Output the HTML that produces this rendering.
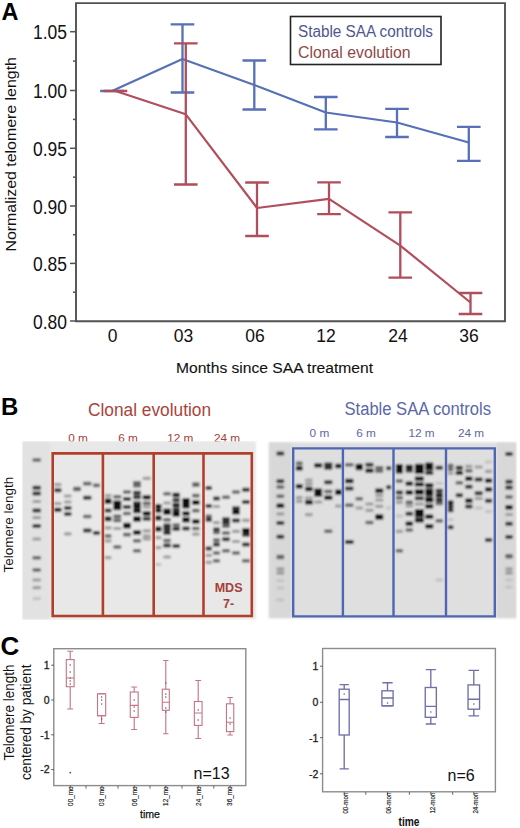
<!DOCTYPE html>
<html><head><meta charset="utf-8"><style>
html,body{margin:0;padding:0;background:#fff;}
svg{display:block;font-family:"Liberation Sans", sans-serif;}
</style></head><body>
<svg width="520" height="828" viewBox="0 0 520 828" font-family='"Liberation Sans", sans-serif'>
<defs><filter id="blur" x="0" y="0" width="1" height="1"><feGaussianBlur stdDeviation="0.95"/></filter></defs>
<rect width="520" height="828" fill="#fff"/>
<text x="1.5" y="20.2" font-size="23.5" font-weight="bold" fill="#000">A</text>
<path d="M76 3.1 V321.2 H505 V3.1 Z" fill="none" stroke="#525252" stroke-width="1.9"/>
<line x1="70" y1="31.7" x2="76" y2="31.7" stroke="#525252" stroke-width="1.5"/>
<text x="67" y="39.2" font-size="20" textLength="34" lengthAdjust="spacingAndGlyphs" text-anchor="end" fill="#111">1.05</text>
<line x1="70" y1="90.5" x2="76" y2="90.5" stroke="#525252" stroke-width="1.5"/>
<text x="67" y="98.0" font-size="20" textLength="34" lengthAdjust="spacingAndGlyphs" text-anchor="end" fill="#111">1.00</text>
<line x1="70" y1="148.3" x2="76" y2="148.3" stroke="#525252" stroke-width="1.5"/>
<text x="67" y="155.8" font-size="20" textLength="34" lengthAdjust="spacingAndGlyphs" text-anchor="end" fill="#111">0.95</text>
<line x1="70" y1="206.0" x2="76" y2="206.0" stroke="#525252" stroke-width="1.5"/>
<text x="67" y="213.5" font-size="20" textLength="34" lengthAdjust="spacingAndGlyphs" text-anchor="end" fill="#111">0.90</text>
<line x1="70" y1="263.4" x2="76" y2="263.4" stroke="#525252" stroke-width="1.5"/>
<text x="67" y="270.9" font-size="20" textLength="34" lengthAdjust="spacingAndGlyphs" text-anchor="end" fill="#111">0.85</text>
<line x1="70" y1="321" x2="76" y2="321" stroke="#525252" stroke-width="1.5"/>
<text x="67" y="328.5" font-size="20" textLength="34" lengthAdjust="spacingAndGlyphs" text-anchor="end" fill="#111">0.80</text>
<line x1="73" y1="61.1" x2="76" y2="61.1" stroke="#525252" stroke-width="1.5"/>
<line x1="73" y1="119.4" x2="76" y2="119.4" stroke="#525252" stroke-width="1.5"/>
<line x1="73" y1="177.15" x2="76" y2="177.15" stroke="#525252" stroke-width="1.5"/>
<line x1="73" y1="234.7" x2="76" y2="234.7" stroke="#525252" stroke-width="1.5"/>
<line x1="73" y1="292.2" x2="76" y2="292.2" stroke="#525252" stroke-width="1.5"/>
<text x="112.6" y="341.5" font-size="19" textLength="9.73" lengthAdjust="spacingAndGlyphs" text-anchor="middle" fill="#111">0</text>
<text x="183.5" y="341.5" font-size="19" textLength="19.46" lengthAdjust="spacingAndGlyphs" text-anchor="middle" fill="#111">03</text>
<text x="255" y="341.5" font-size="19" textLength="19.46" lengthAdjust="spacingAndGlyphs" text-anchor="middle" fill="#111">06</text>
<text x="326" y="341.5" font-size="19" textLength="19.46" lengthAdjust="spacingAndGlyphs" text-anchor="middle" fill="#111">12</text>
<text x="398" y="341.5" font-size="19" textLength="19.46" lengthAdjust="spacingAndGlyphs" text-anchor="middle" fill="#111">24</text>
<text x="469" y="341.5" font-size="19" textLength="19.46" lengthAdjust="spacingAndGlyphs" text-anchor="middle" fill="#111">36</text>
<text x="176" y="373" font-size="14" textLength="197" lengthAdjust="spacingAndGlyphs" fill="#111" stroke="#111" stroke-width="0.1">Months since SAA treatment</text>
<text transform="translate(16.2,251.6) rotate(-90)" x="0" y="0" font-size="14.8" textLength="194.5" lengthAdjust="spacingAndGlyphs" fill="#111">Normalized telomere length</text>
<rect x="290.5" y="16.5" width="150.5" height="48" fill="#fff" stroke="#222" stroke-width="1.6"/>
<text x="298" y="37" font-size="16" textLength="135" lengthAdjust="spacingAndGlyphs" fill="#4d5890">Stable SAA controls</text>
<text x="298" y="57.5" font-size="16" textLength="112.5" lengthAdjust="spacingAndGlyphs" fill="#8e4848">Clonal evolution</text>
<polyline points="112,91 182.5,59 254.3,85 325.8,112.5 397,122.5 468.8,142.5" fill="none" stroke="#5770b6" stroke-width="2.2" stroke-linejoin="round"/>
<path d="M112 91 V91 M100.2 91 H123.8 M100.2 91 H123.8" stroke="#5770b6" stroke-width="2.3" fill="none"/>
<path d="M182.5 24.3 V92.5 M170.7 24.3 H194.3 M170.7 92.5 H194.3" stroke="#5770b6" stroke-width="2.3" fill="none"/>
<path d="M254.3 60.5 V109.5 M242.5 60.5 H266.1 M242.5 109.5 H266.1" stroke="#5770b6" stroke-width="2.3" fill="none"/>
<path d="M325.8 97 V129.3 M314.0 97 H337.6 M314.0 129.3 H337.6" stroke="#5770b6" stroke-width="2.3" fill="none"/>
<path d="M397 108.8 V137 M385.2 108.8 H408.8 M385.2 137 H408.8" stroke="#5770b6" stroke-width="2.3" fill="none"/>
<path d="M468.8 126.8 V160.8 M457.0 126.8 H480.6 M457.0 160.8 H480.6" stroke="#5770b6" stroke-width="2.3" fill="none"/>
<polyline points="115.5,91 185.8,114.3 257,208 329,198.8 400.3,245.6 470.5,302.5" fill="none" stroke="#b04e5c" stroke-width="2.2" stroke-linejoin="round"/>
<path d="M115.5 91 V91 M103.7 91 H127.3 M103.7 91 H127.3" stroke="#b04e5c" stroke-width="2.3" fill="none"/>
<path d="M185.8 43.3 V184.5 M174.0 43.3 H197.60000000000002 M174.0 184.5 H197.60000000000002" stroke="#b04e5c" stroke-width="2.3" fill="none"/>
<path d="M257 182.5 V236 M245.2 182.5 H268.8 M245.2 236 H268.8" stroke="#b04e5c" stroke-width="2.3" fill="none"/>
<path d="M329 182.4 V214.1 M317.2 182.4 H340.8 M317.2 214.1 H340.8" stroke="#b04e5c" stroke-width="2.3" fill="none"/>
<path d="M400.3 212.4 V277.6 M388.5 212.4 H412.1 M388.5 277.6 H412.1" stroke="#b04e5c" stroke-width="2.3" fill="none"/>
<path d="M470.5 293 V314 M458.7 293 H482.3 M458.7 314 H482.3" stroke="#b04e5c" stroke-width="2.3" fill="none"/>
<text x="1" y="414.8" font-size="24" font-weight="bold" fill="#000">B</text>
<text x="88" y="415.6" font-size="17.5" textLength="123" lengthAdjust="spacingAndGlyphs" fill="#a8443c">Clonal evolution</text>
<text x="344.5" y="414.7" font-size="18" textLength="146.5" lengthAdjust="spacingAndGlyphs" fill="#5a68a8">Stable SAA controls</text>
<text transform="translate(12.8,572.4) rotate(-90)" font-size="13.5" textLength="95.5" lengthAdjust="spacingAndGlyphs" fill="#111">Telomere length</text>
<text x="78" y="441.7" font-size="11.8" text-anchor="middle" fill="#a5403a">0 m</text>
<text x="128" y="441.7" font-size="11.8" text-anchor="middle" fill="#a5403a">6 m</text>
<text x="180.3" y="441.7" font-size="11.8" text-anchor="middle" fill="#a5403a">12 m</text>
<text x="227" y="441.7" font-size="11.8" text-anchor="middle" fill="#a5403a">24 m</text>
<text x="319.4" y="436.5" font-size="11.8" text-anchor="middle" fill="#5e689e">0 m</text>
<text x="366" y="436.5" font-size="11.8" text-anchor="middle" fill="#5e689e">6 m</text>
<text x="421.5" y="436.5" font-size="11.8" text-anchor="middle" fill="#5e689e">12 m</text>
<text x="471" y="436.5" font-size="11.8" text-anchor="middle" fill="#5e689e">24 m</text>
<g filter="url(#blur)">
<rect x="22" y="441" width="234" height="178.5" fill="#e8e8e8"/>
<rect x="22" y="441" width="28" height="178.5" fill="#e2e2e2"/>
<rect x="268.8" y="442.2" width="247.5" height="176" fill="#dfdfdf"/><rect x="268.8" y="442.2" width="22" height="176" fill="#d8d8d8"/><rect x="497" y="442.2" width="19.3" height="176" fill="#d8d8d8"/>
<rect x="32.5" y="458.2" width="8.5" height="3.6" rx="1.2" fill="#646464"/>
<rect x="32.5" y="485.7" width="8.5" height="4.0" rx="1.2" fill="#2e2e2e"/>
<rect x="32.5" y="491.4" width="8.5" height="4.0" rx="1.2" fill="#2e2e2e"/>
<rect x="32.5" y="499.9" width="8.5" height="3.2" rx="1.2" fill="#9c9c9c"/>
<rect x="32.5" y="508.4" width="8.5" height="4.1" rx="1.2" fill="#2e2e2e"/>
<rect x="32.5" y="516.1" width="8.5" height="3.2" rx="1.2" fill="#9c9c9c"/>
<rect x="32.5" y="524.0" width="8.5" height="4.0" rx="1.2" fill="#2e2e2e"/>
<rect x="32.5" y="537.4" width="8.5" height="3.2" rx="1.2" fill="#9c9c9c"/>
<rect x="32.5" y="555.9" width="8.5" height="3.6" rx="1.2" fill="#646464"/>
<rect x="32.5" y="568.2" width="8.5" height="3.6" rx="1.2" fill="#646464"/>
<rect x="32.5" y="578.4" width="8.5" height="3.2" rx="1.2" fill="#9c9c9c"/>
<rect x="32.5" y="586.1" width="8.5" height="3.2" rx="1.2" fill="#9c9c9c"/>
<rect x="32.5" y="597.0" width="8.5" height="3.0" rx="1.2" fill="#c2c2c2"/>
<rect x="54" y="483.0" width="7.5" height="3.2" rx="1.2" fill="#9c9c9c"/>
<rect x="54" y="488.3" width="7.5" height="4.0" rx="1.2" fill="#2e2e2e"/>
<rect x="54" y="501.9" width="7.5" height="3.2" rx="1.2" fill="#9c9c9c"/>
<rect x="54" y="507.8" width="7.5" height="4.1" rx="1.2" fill="#0c0c0c"/>
<rect x="64" y="494.4" width="7.5" height="3.2" rx="1.2" fill="#9c9c9c"/>
<rect x="64" y="500.4" width="7.5" height="3.2" rx="1.2" fill="#9c9c9c"/>
<rect x="64" y="506.0" width="7.5" height="4.0" rx="1.2" fill="#2e2e2e"/>
<rect x="64" y="512.0" width="7.5" height="4.0" rx="1.2" fill="#2e2e2e"/>
<rect x="64" y="532.2" width="7.5" height="3.2" rx="1.2" fill="#9c9c9c"/>
<rect x="73" y="486.7" width="8" height="4.6" rx="1.2" fill="#646464"/>
<rect x="83" y="481.8" width="8.5" height="3.6" rx="1.2" fill="#646464"/>
<rect x="83" y="495.7" width="8.5" height="4.0" rx="1.2" fill="#2e2e2e"/>
<rect x="83" y="514.7" width="8.5" height="3.6" rx="1.2" fill="#646464"/>
<rect x="83" y="528.5" width="8.5" height="4.0" rx="1.2" fill="#2e2e2e"/>
<rect x="93" y="483.6" width="7" height="3.6" rx="1.2" fill="#646464"/>
<rect x="93" y="531.0" width="7" height="4.0" rx="1.2" fill="#2e2e2e"/>
<rect x="104.6" y="494.0" width="6.900000000000006" height="3.2" rx="1.2" fill="#9c9c9c"/>
<rect x="104.6" y="498.5" width="6.900000000000006" height="5.6" rx="1.2" fill="#0c0c0c"/>
<rect x="104.6" y="508.6" width="6.900000000000006" height="4.0" rx="1.2" fill="#2e2e2e"/>
<rect x="104.6" y="516.6" width="6.900000000000006" height="4.6" rx="1.2" fill="#0c0c0c"/>
<rect x="104.6" y="526.3" width="6.900000000000006" height="3.2" rx="1.2" fill="#9c9c9c"/>
<rect x="104.6" y="534.2" width="6.900000000000006" height="3.6" rx="1.2" fill="#646464"/>
<rect x="104.6" y="539.2" width="6.900000000000006" height="3.2" rx="1.2" fill="#9c9c9c"/>
<rect x="104.6" y="556.1" width="6.900000000000006" height="3.2" rx="1.2" fill="#9c9c9c"/>
<rect x="113.3" y="494.9" width="8.0" height="3.6" rx="1.2" fill="#646464"/>
<rect x="113.3" y="500.6" width="8.0" height="9.6" rx="1.2" fill="#0c0c0c"/>
<rect x="113.3" y="514.5" width="8.0" height="3.6" rx="1.2" fill="#646464"/>
<rect x="113.3" y="518.6" width="8.0" height="3.6" rx="1.2" fill="#646464"/>
<rect x="113.3" y="526.9" width="8.0" height="3.2" rx="1.2" fill="#9c9c9c"/>
<rect x="113.3" y="545.2" width="8.0" height="3.6" rx="1.2" fill="#646464"/>
<rect x="123" y="490.2" width="8" height="3.6" rx="1.2" fill="#646464"/>
<rect x="123" y="497.0" width="8" height="4.0" rx="1.2" fill="#2e2e2e"/>
<rect x="123" y="505.0" width="8" height="4.0" rx="1.2" fill="#2e2e2e"/>
<rect x="123" y="511.7" width="8" height="3.6" rx="1.2" fill="#646464"/>
<rect x="123" y="522.8" width="8" height="5.6" rx="1.2" fill="#0c0c0c"/>
<rect x="123" y="532.8" width="8" height="3.6" rx="1.2" fill="#646464"/>
<rect x="133" y="481.1" width="8" height="3.6" rx="1.2" fill="#646464"/>
<rect x="133" y="484.0" width="8" height="3.6" rx="1.2" fill="#646464"/>
<rect x="133" y="490.7" width="8" height="4.0" rx="1.2" fill="#2e2e2e"/>
<rect x="133" y="495.3" width="8" height="4.0" rx="1.2" fill="#2e2e2e"/>
<rect x="133" y="501.3" width="8" height="4.0" rx="1.2" fill="#2e2e2e"/>
<rect x="133" y="504.3" width="8" height="4.4" rx="1.2" fill="#0c0c0c"/>
<rect x="133" y="508.8" width="8" height="4.4" rx="1.2" fill="#0c0c0c"/>
<rect x="133" y="516.2" width="8" height="5.6" rx="1.2" fill="#0c0c0c"/>
<rect x="133" y="530.2" width="8" height="4.6" rx="1.2" fill="#0c0c0c"/>
<rect x="133" y="539.0" width="8" height="3.6" rx="1.2" fill="#646464"/>
<rect x="133" y="549.0" width="8" height="3.6" rx="1.2" fill="#646464"/>
<rect x="142.7" y="476.7" width="8.100000000000023" height="3.2" rx="1.2" fill="#9c9c9c"/>
<rect x="142.7" y="495.1" width="8.100000000000023" height="4.4" rx="1.2" fill="#0c0c0c"/>
<rect x="142.7" y="501.5" width="8.100000000000023" height="3.6" rx="1.2" fill="#646464"/>
<rect x="142.7" y="505.4" width="8.100000000000023" height="3.2" rx="1.2" fill="#9c9c9c"/>
<rect x="142.7" y="511.3" width="8.100000000000023" height="4.4" rx="1.2" fill="#0c0c0c"/>
<rect x="142.7" y="516.7" width="8.100000000000023" height="4.0" rx="1.2" fill="#2e2e2e"/>
<rect x="142.7" y="529.2" width="8.100000000000023" height="3.2" rx="1.2" fill="#9c9c9c"/>
<rect x="142.7" y="534.4" width="8.100000000000023" height="3.2" rx="1.2" fill="#9c9c9c"/>
<rect x="142.7" y="537.4" width="8.100000000000023" height="3.2" rx="1.2" fill="#9c9c9c"/>
<rect x="155.2" y="504.1" width="6.300000000000011" height="4.4" rx="1.2" fill="#0c0c0c"/>
<rect x="155.2" y="508.4" width="6.300000000000011" height="4.4" rx="1.2" fill="#0c0c0c"/>
<rect x="155.2" y="515.5" width="6.300000000000011" height="5.1" rx="1.2" fill="#0c0c0c"/>
<rect x="155.2" y="526.5" width="6.300000000000011" height="5.1" rx="1.2" fill="#0c0c0c"/>
<rect x="155.2" y="536.1" width="6.300000000000011" height="3.2" rx="1.2" fill="#9c9c9c"/>
<rect x="155.2" y="546.1" width="6.300000000000011" height="3.2" rx="1.2" fill="#9c9c9c"/>
<rect x="155.2" y="563.1" width="6.300000000000011" height="3.0" rx="1.2" fill="#c2c2c2"/>
<rect x="163.3" y="492.0" width="7.5" height="3.6" rx="1.2" fill="#646464"/>
<rect x="163.3" y="501.4" width="7.5" height="3.2" rx="1.2" fill="#9c9c9c"/>
<rect x="163.3" y="508.4" width="7.5" height="6.6" rx="1.2" fill="#0c0c0c"/>
<rect x="163.3" y="518.0" width="7.5" height="3.6" rx="1.2" fill="#646464"/>
<rect x="163.3" y="523.6" width="7.5" height="4.0" rx="1.2" fill="#2e2e2e"/>
<rect x="163.3" y="527.0" width="7.5" height="4.0" rx="1.2" fill="#2e2e2e"/>
<rect x="163.3" y="531.0" width="7.5" height="4.0" rx="1.2" fill="#2e2e2e"/>
<rect x="163.3" y="538.7" width="7.5" height="3.6" rx="1.2" fill="#646464"/>
<rect x="163.3" y="543.4" width="7.5" height="4.0" rx="1.2" fill="#2e2e2e"/>
<rect x="163.3" y="555.4" width="7.5" height="3.2" rx="1.2" fill="#9c9c9c"/>
<rect x="172.5" y="492.8" width="7.5" height="4.4" rx="1.2" fill="#0c0c0c"/>
<rect x="172.5" y="498.2" width="7.5" height="4.0" rx="1.2" fill="#2e2e2e"/>
<rect x="172.5" y="503.0" width="7.5" height="4.4" rx="1.2" fill="#0c0c0c"/>
<rect x="172.5" y="508.0" width="7.5" height="4.0" rx="1.2" fill="#2e2e2e"/>
<rect x="172.5" y="511.2" width="7.5" height="5.6" rx="1.2" fill="#0c0c0c"/>
<rect x="172.5" y="523.2" width="7.5" height="3.6" rx="1.2" fill="#646464"/>
<rect x="172.5" y="527.0" width="7.5" height="4.0" rx="1.2" fill="#2e2e2e"/>
<rect x="172.5" y="544.0" width="7.5" height="4.0" rx="1.2" fill="#2e2e2e"/>
<rect x="182.3" y="498.0" width="7.5" height="4.4" rx="1.2" fill="#0c0c0c"/>
<rect x="182.3" y="499.9" width="7.5" height="8.6" rx="1.2" fill="#0c0c0c"/>
<rect x="182.3" y="511.3" width="7.5" height="4.4" rx="1.2" fill="#0c0c0c"/>
<rect x="182.3" y="517.0" width="7.5" height="5.6" rx="1.2" fill="#0c0c0c"/>
<rect x="182.3" y="526.5" width="7.5" height="4.0" rx="1.2" fill="#2e2e2e"/>
<rect x="192.1" y="482.3" width="7.5" height="4.6" rx="1.2" fill="#646464"/>
<rect x="192.1" y="493.8" width="7.5" height="3.6" rx="1.2" fill="#646464"/>
<rect x="192.1" y="499.9" width="7.5" height="5.1" rx="1.2" fill="#0c0c0c"/>
<rect x="192.1" y="508.8" width="7.5" height="3.6" rx="1.2" fill="#646464"/>
<rect x="192.1" y="519.3" width="7.5" height="4.4" rx="1.2" fill="#0c0c0c"/>
<rect x="192.1" y="526.7" width="7.5" height="3.6" rx="1.2" fill="#646464"/>
<rect x="192.1" y="532.6" width="7.5" height="3.2" rx="1.2" fill="#9c9c9c"/>
<rect x="205.5" y="486.0" width="6.5" height="4.0" rx="1.2" fill="#2e2e2e"/>
<rect x="205.5" y="504.0" width="6.5" height="4.0" rx="1.2" fill="#2e2e2e"/>
<rect x="205.5" y="514.5" width="6.5" height="3.6" rx="1.2" fill="#646464"/>
<rect x="205.5" y="517.8" width="6.5" height="4.0" rx="1.2" fill="#2e2e2e"/>
<rect x="205.5" y="546.5" width="6.5" height="4.0" rx="1.2" fill="#2e2e2e"/>
<rect x="205.5" y="553.8" width="6.5" height="3.2" rx="1.2" fill="#9c9c9c"/>
<rect x="205.5" y="560.7" width="6.5" height="3.2" rx="1.2" fill="#9c9c9c"/>
<rect x="213" y="496.5" width="7" height="4.0" rx="1.2" fill="#2e2e2e"/>
<rect x="213" y="504.9" width="7" height="3.2" rx="1.2" fill="#9c9c9c"/>
<rect x="213" y="521.1" width="7" height="3.2" rx="1.2" fill="#9c9c9c"/>
<rect x="213" y="527.6" width="7" height="4.0" rx="1.2" fill="#2e2e2e"/>
<rect x="213" y="530.7" width="7" height="3.6" rx="1.2" fill="#646464"/>
<rect x="213" y="538.2" width="7" height="3.6" rx="1.2" fill="#646464"/>
<rect x="213" y="542.6" width="7" height="4.0" rx="1.2" fill="#2e2e2e"/>
<rect x="213" y="551.2" width="7" height="3.6" rx="1.2" fill="#646464"/>
<rect x="213" y="559.0" width="7" height="3.6" rx="1.2" fill="#646464"/>
<rect x="222" y="495.5" width="8" height="3.6" rx="1.2" fill="#646464"/>
<rect x="222" y="517.2" width="8" height="4.0" rx="1.2" fill="#2e2e2e"/>
<rect x="222" y="520.7" width="8" height="4.0" rx="1.2" fill="#2e2e2e"/>
<rect x="222" y="524.4" width="8" height="3.6" rx="1.2" fill="#646464"/>
<rect x="222" y="531.2" width="8" height="3.6" rx="1.2" fill="#646464"/>
<rect x="222" y="537.2" width="8" height="4.0" rx="1.2" fill="#2e2e2e"/>
<rect x="222" y="549.0" width="8" height="3.6" rx="1.2" fill="#646464"/>
<rect x="232" y="490.2" width="8" height="3.6" rx="1.2" fill="#646464"/>
<rect x="232" y="506.3" width="8" height="4.0" rx="1.2" fill="#2e2e2e"/>
<rect x="232" y="510.1" width="8" height="4.4" rx="1.2" fill="#0c0c0c"/>
<rect x="232" y="518.4" width="8" height="4.0" rx="1.2" fill="#2e2e2e"/>
<rect x="232" y="529.7" width="8" height="3.2" rx="1.2" fill="#9c9c9c"/>
<rect x="232" y="539.9" width="8" height="3.2" rx="1.2" fill="#9c9c9c"/>
<rect x="232" y="551.2" width="8" height="3.6" rx="1.2" fill="#646464"/>
<rect x="242" y="487.8" width="8" height="4.0" rx="1.2" fill="#2e2e2e"/>
<rect x="242" y="500.0" width="8" height="4.0" rx="1.2" fill="#2e2e2e"/>
<rect x="242" y="518.8" width="8" height="3.2" rx="1.2" fill="#9c9c9c"/>
<rect x="242" y="528.0" width="8" height="5.6" rx="1.2" fill="#0c0c0c"/>
<rect x="242" y="532.8" width="8" height="4.0" rx="1.2" fill="#2e2e2e"/>
<rect x="242" y="542.6" width="8" height="4.0" rx="1.2" fill="#2e2e2e"/>
<rect x="242" y="559.0" width="8" height="3.6" rx="1.2" fill="#646464"/>
<rect x="276.5" y="451.5" width="7.699999999999989" height="4.0" rx="1.2" fill="#2e2e2e"/>
<rect x="276.5" y="479.2" width="7.699999999999989" height="4.0" rx="1.2" fill="#2e2e2e"/>
<rect x="276.5" y="485.2" width="7.699999999999989" height="3.6" rx="1.2" fill="#646464"/>
<rect x="276.5" y="494.4" width="7.699999999999989" height="3.6" rx="1.2" fill="#646464"/>
<rect x="276.5" y="503.5" width="7.699999999999989" height="4.6" rx="1.2" fill="#0c0c0c"/>
<rect x="276.5" y="512.2" width="7.699999999999989" height="3.2" rx="1.2" fill="#9c9c9c"/>
<rect x="276.5" y="521.0" width="7.699999999999989" height="4.0" rx="1.2" fill="#2e2e2e"/>
<rect x="276.5" y="534.8" width="7.699999999999989" height="4.0" rx="1.2" fill="#2e2e2e"/>
<rect x="276.5" y="554.7" width="7.699999999999989" height="4.6" rx="1.2" fill="#646464"/>
<rect x="276.5" y="567.2" width="7.699999999999989" height="3.6" rx="1.2" fill="#9c9c9c"/>
<rect x="276.5" y="571.2" width="7.699999999999989" height="3.6" rx="1.2" fill="#9c9c9c"/>
<rect x="276.5" y="579.3" width="7.699999999999989" height="3.0" rx="1.2" fill="#c2c2c2"/>
<rect x="276.5" y="586.5" width="7.699999999999989" height="3.0" rx="1.2" fill="#c2c2c2"/>
<rect x="276.5" y="598.5" width="7.699999999999989" height="3.0" rx="1.2" fill="#c2c2c2"/>
<rect x="295.8" y="461.6" width="6.899999999999977" height="3.6" rx="1.2" fill="#646464"/>
<rect x="295.8" y="466.0" width="6.899999999999977" height="4.4" rx="1.2" fill="#0c0c0c"/>
<rect x="295.8" y="484.0" width="6.899999999999977" height="4.4" rx="1.2" fill="#0c0c0c"/>
<rect x="295.8" y="496.1" width="6.899999999999977" height="3.2" rx="1.2" fill="#9c9c9c"/>
<rect x="295.8" y="499.9" width="6.899999999999977" height="3.2" rx="1.2" fill="#9c9c9c"/>
<rect x="305" y="478.4" width="7.699999999999989" height="3.2" rx="1.2" fill="#9c9c9c"/>
<rect x="305" y="482.2" width="7.699999999999989" height="3.2" rx="1.2" fill="#9c9c9c"/>
<rect x="305" y="486.8" width="7.699999999999989" height="4.4" rx="1.2" fill="#0c0c0c"/>
<rect x="305" y="496.4" width="7.699999999999989" height="3.2" rx="1.2" fill="#9c9c9c"/>
<rect x="305" y="500.0" width="7.699999999999989" height="4.6" rx="1.2" fill="#0c0c0c"/>
<rect x="305" y="513.0" width="7.699999999999989" height="3.2" rx="1.2" fill="#9c9c9c"/>
<rect x="314.2" y="463.2" width="8.0" height="4.4" rx="1.2" fill="#0c0c0c"/>
<rect x="314.2" y="488.6" width="8.0" height="4.4" rx="1.2" fill="#0c0c0c"/>
<rect x="314.2" y="492.4" width="8.0" height="4.4" rx="1.2" fill="#0c0c0c"/>
<rect x="314.2" y="500.4" width="8.0" height="3.2" rx="1.2" fill="#9c9c9c"/>
<rect x="324.2" y="462.6" width="8.199999999999989" height="4.0" rx="1.2" fill="#2e2e2e"/>
<rect x="324.2" y="465.7" width="8.199999999999989" height="4.0" rx="1.2" fill="#2e2e2e"/>
<rect x="324.2" y="480.3" width="8.199999999999989" height="4.0" rx="1.2" fill="#2e2e2e"/>
<rect x="324.2" y="489.7" width="8.199999999999989" height="3.6" rx="1.2" fill="#646464"/>
<rect x="324.2" y="495.5" width="8.199999999999989" height="4.4" rx="1.2" fill="#0c0c0c"/>
<rect x="324.2" y="529.4" width="8.199999999999989" height="3.6" rx="1.2" fill="#646464"/>
<rect x="335" y="463.7" width="6.899999999999977" height="4.6" rx="1.2" fill="#0c0c0c"/>
<rect x="335" y="489.5" width="6.899999999999977" height="5.6" rx="1.2" fill="#0c0c0c"/>
<rect x="335" y="504.4" width="6.899999999999977" height="3.2" rx="1.2" fill="#9c9c9c"/>
<rect x="345" y="463.0" width="8.5" height="3.6" rx="1.2" fill="#646464"/>
<rect x="345" y="478.8" width="8.5" height="4.4" rx="1.2" fill="#0c0c0c"/>
<rect x="345" y="486.5" width="8.5" height="4.0" rx="1.2" fill="#2e2e2e"/>
<rect x="345" y="503.4" width="8.5" height="3.6" rx="1.2" fill="#646464"/>
<rect x="345" y="540.0" width="8.5" height="4.1" rx="1.2" fill="#0c0c0c"/>
<rect x="355.6" y="463.7" width="7.399999999999977" height="6.6" rx="1.2" fill="#0c0c0c"/>
<rect x="355.6" y="497.0" width="7.399999999999977" height="3.6" rx="1.2" fill="#646464"/>
<rect x="355.6" y="506.4" width="7.399999999999977" height="3.2" rx="1.2" fill="#9c9c9c"/>
<rect x="365.4" y="462.8" width="8.100000000000023" height="4.0" rx="1.2" fill="#2e2e2e"/>
<rect x="365.4" y="468.4" width="8.100000000000023" height="4.4" rx="1.2" fill="#0c0c0c"/>
<rect x="365.4" y="502.4" width="8.100000000000023" height="3.2" rx="1.2" fill="#9c9c9c"/>
<rect x="365.4" y="508.8" width="8.100000000000023" height="3.2" rx="1.2" fill="#9c9c9c"/>
<rect x="365.4" y="520.7" width="8.100000000000023" height="3.6" rx="1.2" fill="#646464"/>
<rect x="375.2" y="465.9" width="8.100000000000023" height="3.6" rx="1.2" fill="#646464"/>
<rect x="375.2" y="469.2" width="8.100000000000023" height="3.6" rx="1.2" fill="#646464"/>
<rect x="375.2" y="488.6" width="8.100000000000023" height="4.4" rx="1.2" fill="#0c0c0c"/>
<rect x="375.2" y="493.8" width="8.100000000000023" height="3.2" rx="1.2" fill="#9c9c9c"/>
<rect x="375.2" y="498.4" width="8.100000000000023" height="3.2" rx="1.2" fill="#9c9c9c"/>
<rect x="375.2" y="504.7" width="8.100000000000023" height="3.2" rx="1.2" fill="#9c9c9c"/>
<rect x="375.2" y="514.2" width="8.100000000000023" height="5.6" rx="1.2" fill="#0c0c0c"/>
<rect x="386.2" y="466.3" width="5.100000000000023" height="4.0" rx="1.2" fill="#2e2e2e"/>
<rect x="386.2" y="485.3" width="5.100000000000023" height="4.0" rx="1.2" fill="#2e2e2e"/>
<rect x="386.2" y="506.5" width="5.100000000000023" height="3.0" rx="1.2" fill="#c2c2c2"/>
<rect x="395.8" y="464.0" width="7.199999999999989" height="9.6" rx="1.2" fill="#0c0c0c"/>
<rect x="395.8" y="479.2" width="7.199999999999989" height="3.6" rx="1.2" fill="#646464"/>
<rect x="395.8" y="490.5" width="7.199999999999989" height="4.0" rx="1.2" fill="#2e2e2e"/>
<rect x="395.8" y="495.9" width="7.199999999999989" height="3.6" rx="1.2" fill="#646464"/>
<rect x="395.8" y="500.7" width="7.199999999999989" height="3.2" rx="1.2" fill="#9c9c9c"/>
<rect x="395.8" y="514.5" width="7.199999999999989" height="3.0" rx="1.2" fill="#c2c2c2"/>
<rect x="395.8" y="529.7" width="7.199999999999989" height="3.2" rx="1.2" fill="#9c9c9c"/>
<rect x="395.8" y="549.0" width="7.199999999999989" height="3.6" rx="1.2" fill="#646464"/>
<rect x="405.6" y="464.8" width="7.399999999999977" height="4.4" rx="1.2" fill="#0c0c0c"/>
<rect x="405.6" y="468.6" width="7.399999999999977" height="4.0" rx="1.2" fill="#2e2e2e"/>
<rect x="405.6" y="481.4" width="7.399999999999977" height="4.4" rx="1.2" fill="#0c0c0c"/>
<rect x="405.6" y="490.3" width="7.399999999999977" height="4.4" rx="1.2" fill="#0c0c0c"/>
<rect x="405.6" y="500.5" width="7.399999999999977" height="3.6" rx="1.2" fill="#646464"/>
<rect x="405.6" y="504.2" width="7.399999999999977" height="3.2" rx="1.2" fill="#9c9c9c"/>
<rect x="405.6" y="511.8" width="7.399999999999977" height="4.0" rx="1.2" fill="#2e2e2e"/>
<rect x="405.6" y="521.6" width="7.399999999999977" height="4.4" rx="1.2" fill="#0c0c0c"/>
<rect x="405.6" y="528.2" width="7.399999999999977" height="3.6" rx="1.2" fill="#646464"/>
<rect x="414.8" y="463.8" width="9.199999999999989" height="4.4" rx="1.2" fill="#0c0c0c"/>
<rect x="414.8" y="466.6" width="9.199999999999989" height="4.4" rx="1.2" fill="#0c0c0c"/>
<rect x="414.8" y="469.5" width="9.199999999999989" height="4.4" rx="1.2" fill="#0c0c0c"/>
<rect x="414.8" y="476.5" width="9.199999999999989" height="4.4" rx="1.2" fill="#0c0c0c"/>
<rect x="414.8" y="482.2" width="9.199999999999989" height="4.4" rx="1.2" fill="#0c0c0c"/>
<rect x="414.8" y="489.2" width="9.199999999999989" height="5.6" rx="1.2" fill="#0c0c0c"/>
<rect x="414.8" y="496.3" width="9.199999999999989" height="4.0" rx="1.2" fill="#2e2e2e"/>
<rect x="414.8" y="502.4" width="9.199999999999989" height="3.2" rx="1.2" fill="#9c9c9c"/>
<rect x="414.8" y="509.0" width="9.199999999999989" height="8.6" rx="1.2" fill="#0c0c0c"/>
<rect x="414.8" y="517.9" width="9.199999999999989" height="4.6" rx="1.2" fill="#0c0c0c"/>
<rect x="425.2" y="462.6" width="8.100000000000023" height="4.4" rx="1.2" fill="#0c0c0c"/>
<rect x="425.2" y="466.1" width="8.100000000000023" height="4.4" rx="1.2" fill="#0c0c0c"/>
<rect x="425.2" y="470.9" width="8.100000000000023" height="4.0" rx="1.2" fill="#2e2e2e"/>
<rect x="425.2" y="483.0" width="8.100000000000023" height="4.4" rx="1.2" fill="#0c0c0c"/>
<rect x="425.2" y="488.6" width="8.100000000000023" height="4.4" rx="1.2" fill="#0c0c0c"/>
<rect x="425.2" y="491.5" width="8.100000000000023" height="4.4" rx="1.2" fill="#0c0c0c"/>
<rect x="425.2" y="496.6" width="8.100000000000023" height="4.4" rx="1.2" fill="#0c0c0c"/>
<rect x="425.2" y="498.0" width="8.100000000000023" height="4.4" rx="1.2" fill="#0c0c0c"/>
<rect x="425.2" y="504.1" width="8.100000000000023" height="4.4" rx="1.2" fill="#0c0c0c"/>
<rect x="425.2" y="514.5" width="8.100000000000023" height="4.4" rx="1.2" fill="#0c0c0c"/>
<rect x="425.2" y="524.1" width="8.100000000000023" height="4.4" rx="1.2" fill="#0c0c0c"/>
<rect x="435.6" y="465.7" width="7.399999999999977" height="4.0" rx="1.2" fill="#2e2e2e"/>
<rect x="435.6" y="481.8" width="7.399999999999977" height="3.0" rx="1.2" fill="#c2c2c2"/>
<rect x="435.6" y="488.8" width="7.399999999999977" height="4.0" rx="1.2" fill="#2e2e2e"/>
<rect x="435.6" y="493.2" width="7.399999999999977" height="4.4" rx="1.2" fill="#0c0c0c"/>
<rect x="435.6" y="498.0" width="7.399999999999977" height="4.0" rx="1.2" fill="#2e2e2e"/>
<rect x="435.6" y="501.7" width="7.399999999999977" height="3.6" rx="1.2" fill="#646464"/>
<rect x="435.6" y="519.0" width="7.399999999999977" height="3.6" rx="1.2" fill="#646464"/>
<rect x="435.6" y="578.5" width="7.399999999999977" height="3.0" rx="1.2" fill="#c2c2c2"/>
<rect x="447.7" y="463.8" width="5.800000000000011" height="3.6" rx="1.2" fill="#646464"/>
<rect x="447.7" y="467.4" width="5.800000000000011" height="3.6" rx="1.2" fill="#646464"/>
<rect x="447.7" y="471.7" width="5.800000000000011" height="3.2" rx="1.2" fill="#9c9c9c"/>
<rect x="447.7" y="500.4" width="5.800000000000011" height="4.4" rx="1.2" fill="#0c0c0c"/>
<rect x="447.7" y="504.5" width="5.800000000000011" height="4.0" rx="1.2" fill="#2e2e2e"/>
<rect x="447.7" y="508.2" width="5.800000000000011" height="4.0" rx="1.2" fill="#2e2e2e"/>
<rect x="447.7" y="518.2" width="5.800000000000011" height="3.0" rx="1.2" fill="#c2c2c2"/>
<rect x="447.7" y="525.3" width="5.800000000000011" height="4.0" rx="1.2" fill="#2e2e2e"/>
<rect x="455.7" y="465.8" width="7.300000000000011" height="4.0" rx="1.2" fill="#2e2e2e"/>
<rect x="455.7" y="470.7" width="7.300000000000011" height="4.4" rx="1.2" fill="#0c0c0c"/>
<rect x="455.7" y="481.0" width="7.300000000000011" height="3.6" rx="1.2" fill="#646464"/>
<rect x="455.7" y="493.2" width="7.300000000000011" height="4.0" rx="1.2" fill="#2e2e2e"/>
<rect x="465.2" y="464.7" width="7.300000000000011" height="3.2" rx="1.2" fill="#9c9c9c"/>
<rect x="465.2" y="468.9" width="7.300000000000011" height="3.6" rx="1.2" fill="#646464"/>
<rect x="465.2" y="476.5" width="7.300000000000011" height="4.4" rx="1.2" fill="#0c0c0c"/>
<rect x="465.2" y="484.8" width="7.300000000000011" height="4.0" rx="1.2" fill="#2e2e2e"/>
<rect x="465.2" y="498.5" width="7.300000000000011" height="4.4" rx="1.2" fill="#0c0c0c"/>
<rect x="465.2" y="504.5" width="7.300000000000011" height="4.0" rx="1.2" fill="#2e2e2e"/>
<rect x="474.7" y="465.4" width="8.0" height="3.2" rx="1.2" fill="#9c9c9c"/>
<rect x="474.7" y="477.5" width="8.0" height="4.0" rx="1.2" fill="#2e2e2e"/>
<rect x="474.7" y="491.3" width="8.0" height="4.0" rx="1.2" fill="#2e2e2e"/>
<rect x="474.7" y="496.9" width="8.0" height="3.2" rx="1.2" fill="#9c9c9c"/>
<rect x="474.7" y="506.5" width="8.0" height="3.0" rx="1.2" fill="#c2c2c2"/>
<rect x="485" y="460.5" width="7.199999999999989" height="3.0" rx="1.2" fill="#c2c2c2"/>
<rect x="485" y="469.8" width="7.199999999999989" height="3.2" rx="1.2" fill="#9c9c9c"/>
<rect x="485" y="478.4" width="7.199999999999989" height="4.4" rx="1.2" fill="#0c0c0c"/>
<rect x="485" y="487.2" width="7.199999999999989" height="4.4" rx="1.2" fill="#0c0c0c"/>
<rect x="485" y="498.7" width="7.199999999999989" height="4.0" rx="1.2" fill="#2e2e2e"/>
<rect x="485" y="510.1" width="7.199999999999989" height="3.0" rx="1.2" fill="#c2c2c2"/>
<rect x="485" y="538.0" width="7.199999999999989" height="4.0" rx="1.2" fill="#2e2e2e"/>
<rect x="505.4" y="451.9" width="7.300000000000068" height="4.0" rx="1.2" fill="#2e2e2e"/>
<rect x="505.4" y="479.7" width="7.300000000000068" height="4.0" rx="1.2" fill="#2e2e2e"/>
<rect x="505.4" y="485.5" width="7.300000000000068" height="4.0" rx="1.2" fill="#2e2e2e"/>
<rect x="505.4" y="495.2" width="7.300000000000068" height="3.6" rx="1.2" fill="#646464"/>
<rect x="505.4" y="504.9" width="7.300000000000068" height="4.6" rx="1.2" fill="#0c0c0c"/>
<rect x="505.4" y="512.9" width="7.300000000000068" height="3.2" rx="1.2" fill="#9c9c9c"/>
<rect x="505.4" y="521.8" width="7.300000000000068" height="4.0" rx="1.2" fill="#2e2e2e"/>
<rect x="505.4" y="535.0" width="7.300000000000068" height="4.0" rx="1.2" fill="#2e2e2e"/>
<rect x="505.4" y="554.0" width="7.300000000000068" height="4.6" rx="1.2" fill="#646464"/>
<rect x="505.4" y="567.2" width="7.300000000000068" height="3.6" rx="1.2" fill="#9c9c9c"/>
<rect x="505.4" y="571.2" width="7.300000000000068" height="3.6" rx="1.2" fill="#9c9c9c"/>
<rect x="505.4" y="578.5" width="7.300000000000068" height="3.0" rx="1.2" fill="#c2c2c2"/>
<rect x="505.4" y="585.5" width="7.300000000000068" height="3.0" rx="1.2" fill="#c2c2c2"/>
</g>
<path d="M52.7 453.4 H251.8 V616 H52.7 Z M102.9 453.4 V616 M153.7 453.4 V616 M203.5 453.4 V616" fill="none" stroke="#b23f2b" stroke-width="2.6"/>
<path d="M293.2 448.4 H494.8 V616.4 H293.2 Z M342.9 448.4 V616.4 M393.5 448.4 V616.4 M446 448.4 V616.4" fill="none" stroke="#4f66b2" stroke-width="2.4"/>
<text x="228.6" y="591.8" font-size="12.5" font-weight="bold" text-anchor="middle" fill="#a5403a">MDS</text>
<text x="228.6" y="607.7" font-size="12.5" font-weight="bold" text-anchor="middle" fill="#a5403a">7-</text>
<text x="0.5" y="655" font-size="26" font-weight="bold" fill="#000">C</text>
<g font-size="14.8" fill="#111"><text transform="translate(14.1,664.6) rotate(-90)" text-anchor="end" textLength="95.8" lengthAdjust="spacingAndGlyphs">Telomere length</text>
<text transform="translate(30.8,664.6) rotate(-90)" text-anchor="end" textLength="115.4" lengthAdjust="spacingAndGlyphs">centered by patient</text></g>
<rect x="53.8" y="648.7" width="192.0" height="136.89999999999998" fill="none" stroke="#8c8c8c" stroke-width="1.4"/>
<line x1="51.3" y1="665.2" x2="53.8" y2="665.2" stroke="#555" stroke-width="1"/>
<text x="49.5" y="669.0" font-size="10.5" text-anchor="end" fill="#222" stroke="#222" stroke-width="0.3">1</text>
<line x1="51.3" y1="700" x2="53.8" y2="700" stroke="#555" stroke-width="1"/>
<text x="49.5" y="703.8" font-size="10.5" text-anchor="end" fill="#222" stroke="#222" stroke-width="0.3">0</text>
<line x1="51.3" y1="734.8" x2="53.8" y2="734.8" stroke="#555" stroke-width="1"/>
<text x="49.5" y="738.5999999999999" font-size="10.5" text-anchor="end" fill="#222" stroke="#222" stroke-width="0.3">-1</text>
<line x1="51.3" y1="769.6" x2="53.8" y2="769.6" stroke="#555" stroke-width="1"/>
<text x="49.5" y="773.4" font-size="10.5" text-anchor="end" fill="#222" stroke="#222" stroke-width="0.3">-2</text>
<line x1="86" y1="785.6" x2="86" y2="788.6" stroke="#666" stroke-width="1"/>
<line x1="118" y1="785.6" x2="118" y2="788.6" stroke="#666" stroke-width="1"/>
<line x1="150" y1="785.6" x2="150" y2="788.6" stroke="#666" stroke-width="1"/>
<line x1="182" y1="785.6" x2="182" y2="788.6" stroke="#666" stroke-width="1"/>
<line x1="213.8" y1="785.6" x2="213.8" y2="788.6" stroke="#666" stroke-width="1"/>
<line x1="70.2" y1="785.6" x2="70.2" y2="788.6" stroke="#666" stroke-width="1"/>
<text transform="translate(72.5,786.4) rotate(-90)" text-anchor="end" font-size="7" textLength="19.5" lengthAdjust="spacingAndGlyphs" fill="#222" stroke="#222" stroke-width="0.15">00_mo</text>
<line x1="102" y1="785.6" x2="102" y2="788.6" stroke="#666" stroke-width="1"/>
<text transform="translate(104.3,786.4) rotate(-90)" text-anchor="end" font-size="7" textLength="19.5" lengthAdjust="spacingAndGlyphs" fill="#222" stroke="#222" stroke-width="0.15">03_mo</text>
<line x1="134.2" y1="785.6" x2="134.2" y2="788.6" stroke="#666" stroke-width="1"/>
<text transform="translate(136.5,786.4) rotate(-90)" text-anchor="end" font-size="7" textLength="19.5" lengthAdjust="spacingAndGlyphs" fill="#222" stroke="#222" stroke-width="0.15">06_mo</text>
<line x1="165.8" y1="785.6" x2="165.8" y2="788.6" stroke="#666" stroke-width="1"/>
<text transform="translate(168.10000000000002,786.4) rotate(-90)" text-anchor="end" font-size="7" textLength="19.5" lengthAdjust="spacingAndGlyphs" fill="#222" stroke="#222" stroke-width="0.15">12_mo</text>
<line x1="198.2" y1="785.6" x2="198.2" y2="788.6" stroke="#666" stroke-width="1"/>
<text transform="translate(200.5,786.4) rotate(-90)" text-anchor="end" font-size="7" textLength="19.5" lengthAdjust="spacingAndGlyphs" fill="#222" stroke="#222" stroke-width="0.15">24_mo</text>
<line x1="230.1" y1="785.6" x2="230.1" y2="788.6" stroke="#666" stroke-width="1"/>
<text transform="translate(232.4,786.4) rotate(-90)" text-anchor="end" font-size="7" textLength="19.5" lengthAdjust="spacingAndGlyphs" fill="#222" stroke="#222" stroke-width="0.15">36_mo</text>
<path d="M70.2 651.2 V659.6 M70.2 686.7 V709 M67.275 651.2 H73.125 M67.275 709 H73.125 M66.3 678 H74.10000000000001" stroke="#c47482" stroke-width="1.1" fill="none"/>
<rect x="66.3" y="659.6" width="7.8" height="27.100000000000023" fill="none" stroke="#c47482" stroke-width="1.1"/>
<circle cx="70.2" cy="665" r="0.75" fill="#5a5a5a"/>
<circle cx="70.2" cy="672" r="0.75" fill="#5a5a5a"/>
<circle cx="70.2" cy="678" r="0.75" fill="#5a5a5a"/>
<circle cx="70.2" cy="681" r="0.75" fill="#5a5a5a"/>
<circle cx="70.2" cy="684" r="0.75" fill="#5a5a5a"/>
<path d="M101.6 693.8 V693.8 M101.6 715.7 V723.5 M98.52499999999999 693.8 H104.675 M98.52499999999999 723.5 H104.675 M97.5 715.7 H105.69999999999999" stroke="#c47482" stroke-width="1.1" fill="none"/>
<rect x="97.5" y="693.8" width="8.2" height="21.90000000000009" fill="none" stroke="#c47482" stroke-width="1.1"/>
<circle cx="101.6" cy="697" r="0.75" fill="#5a5a5a"/>
<circle cx="101.6" cy="700" r="0.75" fill="#5a5a5a"/>
<circle cx="101.6" cy="704" r="0.75" fill="#5a5a5a"/>
<circle cx="101.6" cy="719" r="0.75" fill="#5a5a5a"/>
<path d="M134.2 687 V692 M134.2 717.4 V729.5 M131.23749999999998 687 H137.1625 M131.23749999999998 729.5 H137.1625 M130.25 705.4 H138.14999999999998" stroke="#c47482" stroke-width="1.1" fill="none"/>
<rect x="130.25" y="692" width="7.9" height="25.399999999999977" fill="none" stroke="#c47482" stroke-width="1.1"/>
<circle cx="134.2" cy="700" r="0.75" fill="#5a5a5a"/>
<circle cx="134.2" cy="707" r="0.75" fill="#5a5a5a"/>
<circle cx="134.2" cy="711" r="0.75" fill="#5a5a5a"/>
<path d="M165.8 660.5 V689.2 M165.8 710.3 V733.8 M163.175 660.5 H168.425 M163.175 733.8 H168.425 M162.3 702.3 H169.3" stroke="#c47482" stroke-width="1.1" fill="none"/>
<rect x="162.3" y="689.2" width="7" height="21.09999999999991" fill="none" stroke="#c47482" stroke-width="1.1"/>
<circle cx="165.8" cy="683" r="0.75" fill="#5a5a5a"/>
<circle cx="165.8" cy="694" r="0.75" fill="#5a5a5a"/>
<circle cx="165.8" cy="697" r="0.75" fill="#5a5a5a"/>
<circle cx="165.8" cy="708" r="0.75" fill="#5a5a5a"/>
<circle cx="165.8" cy="712" r="0.75" fill="#5a5a5a"/>
<path d="M198.2 680.5 V701.5 M198.2 725.4 V738.5 M195.3125 680.5 H201.08749999999998 M195.3125 738.5 H201.08749999999998 M194.35 713 H202.04999999999998" stroke="#c47482" stroke-width="1.1" fill="none"/>
<rect x="194.35" y="701.5" width="7.7" height="23.899999999999977" fill="none" stroke="#c47482" stroke-width="1.1"/>
<circle cx="198.2" cy="710" r="0.75" fill="#5a5a5a"/>
<circle cx="198.2" cy="720" r="0.75" fill="#5a5a5a"/>
<path d="M230.1 697.5 V703.8 M230.1 731.6 V735 M227.36249999999998 697.5 H232.8375 M227.36249999999998 735 H232.8375 M226.45 722.3 H233.75" stroke="#c47482" stroke-width="1.1" fill="none"/>
<rect x="226.45" y="703.8" width="7.3" height="27.800000000000068" fill="none" stroke="#c47482" stroke-width="1.1"/>
<circle cx="230.1" cy="718" r="0.75" fill="#5a5a5a"/>
<circle cx="230.1" cy="724" r="0.75" fill="#5a5a5a"/>
<circle cx="70.3" cy="772.6" r="0.9" fill="#553"/>
<text x="193.5" y="778.8" font-size="16" fill="#111">n=13</text>
<text x="140" y="818" font-size="10.8" textLength="20" lengthAdjust="spacingAndGlyphs" fill="#111" stroke="#111" stroke-width="0.25">time</text>
<rect x="322.6" y="648.5" width="172.79999999999995" height="143.29999999999995" fill="none" stroke="#8c8c8c" stroke-width="1.4"/>
<line x1="320.1" y1="666.2" x2="322.6" y2="666.2" stroke="#555" stroke-width="1"/>
<text x="318.3" y="670.0" font-size="10.5" text-anchor="end" fill="#222" stroke="#222" stroke-width="0.3">1</text>
<line x1="320.1" y1="702.3" x2="322.6" y2="702.3" stroke="#555" stroke-width="1"/>
<text x="318.3" y="706.0999999999999" font-size="10.5" text-anchor="end" fill="#222" stroke="#222" stroke-width="0.3">0</text>
<line x1="320.1" y1="737.7" x2="322.6" y2="737.7" stroke="#555" stroke-width="1"/>
<text x="318.3" y="741.5" font-size="10.5" text-anchor="end" fill="#222" stroke="#222" stroke-width="0.3">-1</text>
<line x1="320.1" y1="773.8" x2="322.6" y2="773.8" stroke="#555" stroke-width="1"/>
<text x="318.3" y="777.5999999999999" font-size="10.5" text-anchor="end" fill="#222" stroke="#222" stroke-width="0.3">-2</text>
<line x1="365.8" y1="791.8" x2="365.8" y2="794.8" stroke="#666" stroke-width="1"/>
<line x1="409.4" y1="791.8" x2="409.4" y2="794.8" stroke="#666" stroke-width="1"/>
<line x1="452.7" y1="791.8" x2="452.7" y2="794.8" stroke="#666" stroke-width="1"/>
<line x1="344.2" y1="791.8" x2="344.2" y2="794.8" stroke="#666" stroke-width="1"/>
<text transform="translate(347.9,792.5999999999999) rotate(-90)" text-anchor="end" font-size="7" textLength="21" lengthAdjust="spacingAndGlyphs" fill="#222" stroke="#222" stroke-width="0.15">00-mon</text>
<line x1="387.5" y1="791.8" x2="387.5" y2="794.8" stroke="#666" stroke-width="1"/>
<text transform="translate(391.2,792.5999999999999) rotate(-90)" text-anchor="end" font-size="7" textLength="21" lengthAdjust="spacingAndGlyphs" fill="#222" stroke="#222" stroke-width="0.15">06-mon</text>
<line x1="430.8" y1="791.8" x2="430.8" y2="794.8" stroke="#666" stroke-width="1"/>
<text transform="translate(434.5,792.5999999999999) rotate(-90)" text-anchor="end" font-size="7" textLength="21" lengthAdjust="spacingAndGlyphs" fill="#222" stroke="#222" stroke-width="0.15">12-mon</text>
<line x1="473.8" y1="791.8" x2="473.8" y2="794.8" stroke="#666" stroke-width="1"/>
<text transform="translate(477.5,792.5999999999999) rotate(-90)" text-anchor="end" font-size="7" textLength="21" lengthAdjust="spacingAndGlyphs" fill="#222" stroke="#222" stroke-width="0.15">24-mon</text>
<path d="M344.2 684.6 V689.2 M344.2 735 V768.8 M339.59999999999997 684.6 H348.8 M339.59999999999997 768.8 H348.8 M339.2 699.5 H349.2" stroke="#6f70a8" stroke-width="1.35" fill="none"/>
<rect x="339.2" y="689.2" width="10" height="45.799999999999955" fill="none" stroke="#6f70a8" stroke-width="1.35"/>
<circle cx="344.2" cy="694" r="0.75" fill="#5a5a5a"/>
<path d="M387.5 682.7 V690.8 M387.5 705.8 V705.8 M382.348 682.7 H392.652 M382.348 705.8 H392.652 M381.9 698 H393.1" stroke="#6f70a8" stroke-width="1.35" fill="none"/>
<rect x="381.9" y="690.8" width="11.2" height="15.0" fill="none" stroke="#6f70a8" stroke-width="1.35"/>
<circle cx="387.5" cy="703" r="0.75" fill="#5a5a5a"/>
<path d="M430.8 669.6 V687.5 M430.8 717.3 V724 M425.694 669.6 H435.906 M425.694 724 H435.906 M425.25 706.3 H436.35" stroke="#6f70a8" stroke-width="1.35" fill="none"/>
<rect x="425.25" y="687.5" width="11.1" height="29.799999999999955" fill="none" stroke="#6f70a8" stroke-width="1.35"/>
<circle cx="430.8" cy="712" r="0.75" fill="#5a5a5a"/>
<path d="M473.8 670.3 V684.9 M473.8 709.2 V715.8 M468.51 670.3 H479.09000000000003 M468.51 715.8 H479.09000000000003 M468.05 699.2 H479.55" stroke="#6f70a8" stroke-width="1.35" fill="none"/>
<rect x="468.05" y="684.9" width="11.5" height="24.300000000000068" fill="none" stroke="#6f70a8" stroke-width="1.35"/>
<circle cx="473.8" cy="704" r="0.75" fill="#5a5a5a"/>
<text x="447.5" y="780.5" font-size="16" fill="#111">n=6</text>
<text x="398.5" y="826.3" font-size="12.8" font-weight="bold" textLength="21" lengthAdjust="spacingAndGlyphs" fill="#111">time</text>
</svg>
</body></html>
